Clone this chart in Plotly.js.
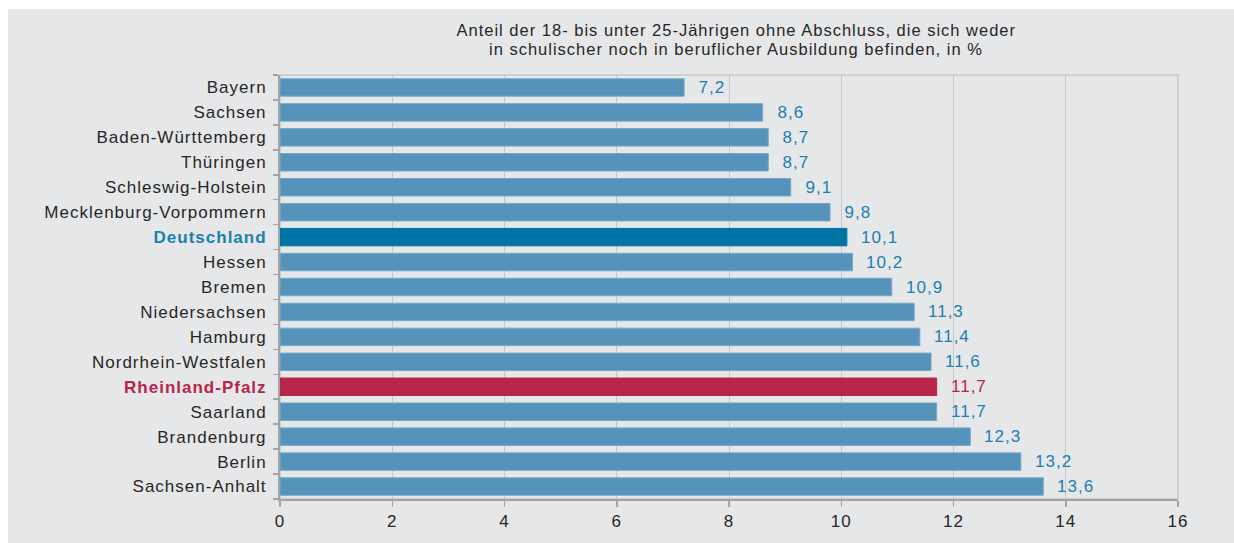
<!DOCTYPE html>
<html>
<head>
<meta charset="utf-8">
<script src="https://cdn.plot.ly/plotly-3.0.1.min.js"></script>
<style>
html,body{margin:0;padding:0;background:#ffffff;}
#chart{position:absolute;left:8px;top:9px;width:1226px;height:534px;}
#chart svg text{letter-spacing:1px;}
</style>
</head>
<body>
<div id="chart"></div>
<script>
const categories = ["Bayern","Sachsen","Baden-Württemberg","Thüringen","Schleswig-Holstein","Mecklenburg-Vorpommern","Deutschland","Hessen","Bremen","Niedersachsen","Hamburg","Nordrhein-Westfalen","Rheinland-Pfalz","Saarland","Brandenburg","Berlin","Sachsen-Anhalt"];
const values = [7.2,8.6,8.7,8.7,9.1,9.8,10.1,10.2,10.9,11.3,11.4,11.6,11.7,11.7,12.3,13.2,13.6];
const xTicks = [0,2,4,6,8,10,12,14,16];
const titleLines = ["Anteil der 18- bis unter 25-Jährigen ohne Abschluss, die sich weder",
                    "in schulischer noch in beruflicher Ausbildung befinden, in %"];

const FONT = "Liberation Sans, Arial, sans-serif";
const BLUE = "#5593bb", DE = "#0072a3", RP = "#b8254a", LBL = "#1a80b0", TXT = "#262626";
const barColors = categories.map(c => c === "Deutschland" ? DE : (c === "Rheinland-Pfalz" ? RP : BLUE));
const lineColors = categories.map(c => c === "Deutschland" ? DE : (c === "Rheinland-Pfalz" ? RP : "#78a8c9"));
const tickText = categories.map(c => c === "Deutschland" ? '<b><span style="color:'+LBL+'">'+c+'</span></b>' :
  (c === "Rheinland-Pfalz" ? '<b><span style="color:'+RP+'">'+c+'</span></b>' : c));

const annotations = categories.map((c,i) => ({
  x: values[i], y: c, xref: "x", yref: "y",
  text: values[i].toFixed(1).replace(".", ","),
  showarrow: false, xanchor: "left", xshift: 14,
  font: {family: FONT, size: 17, color: c === "Rheinland-Pfalz" ? RP : LBL}
}));
titleLines.forEach((t, k) => annotations.push({
  x: 0.5, y: 1, xref: "paper", yref: "paper", text: t, showarrow: false,
  xanchor: "center", yanchor: "middle", xshift: 7, yshift: k === 0 ? 45 : 26,
  font: {family: FONT, size: 16.5, color: TXT}
}));

const trace = {
  type: "bar", orientation: "h", x: values, y: categories,
  marker: {color: barColors, line: {color: lineColors, width: 1}},
  hoverinfo: "x+y"
};

const layout = {
  width: 1226, height: 534,
  paper_bgcolor: "#e6e7e9", plot_bgcolor: "#e6e7e9",
  margin: {l: 272, r: 56, t: 66, b: 44},
  font: {family: FONT, size: 17, color: TXT},
  bargap: 0.3,
  showlegend: false,
  xaxis: {range: [0, 16], tickvals: xTicks, ticktext: xTicks.map(String),
    showgrid: true, gridcolor: "#c6c7c9", gridwidth: 1,
    showline: true, linecolor: "#a3a4a6", linewidth: 2,
    ticks: "outside", ticklen: 6, tickcolor: "#a3a4a6", tickwidth: 1.5,
    zeroline: false, fixedrange: true,
    tickfont: {family: FONT, size: 17, color: TXT}},
  yaxis: {type: "category", autorange: "reversed", tickvals: categories, ticktext: tickText,
    showline: true, linecolor: "#a3a4a6", linewidth: 2,
    ticks: "outside", ticklen: 5, tickcolor: "#a3a4a6", tickwidth: 1.5, tickson: "boundaries",
    showgrid: false, fixedrange: true, ticklabelstandoff: 8,
    tickfont: {family: FONT, size: 17, color: TXT}},
  shapes: [{type: "rect", xref: "paper", yref: "paper", x0: 0, x1: 1, y0: 0, y1: 1,
    line: {color: "#c6c7c9", width: 1.5}, layer: "below"}],
  annotations: annotations
};

Plotly.newPlot("chart", [trace], layout, {displayModeBar: false, staticPlot: true});
</script>
</body>
</html>
